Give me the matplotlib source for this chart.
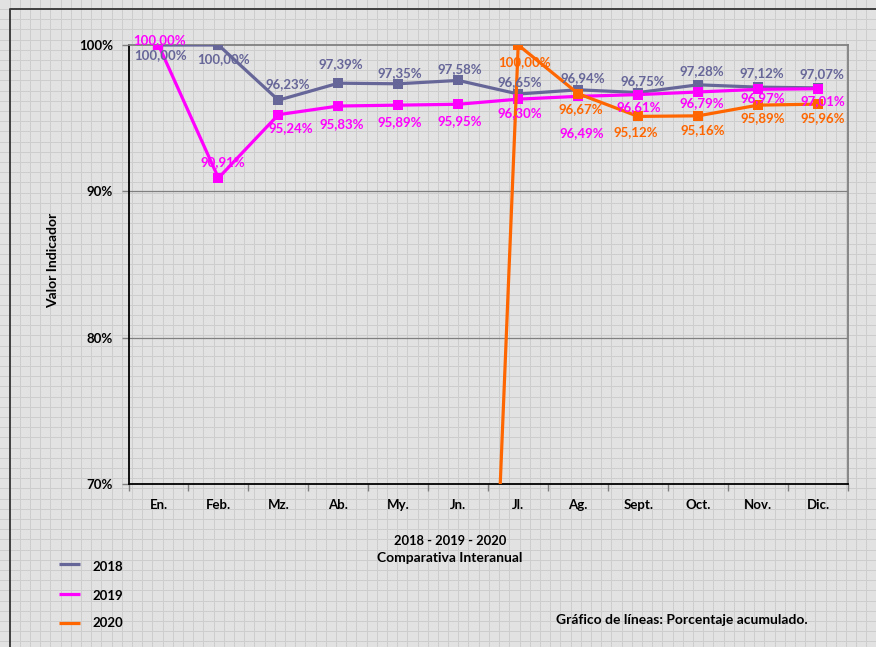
import numpy as np
import matplotlib
matplotlib.use("Agg")
import matplotlib.pyplot as plt

W, H = 876, 647

months = ["En.", "Feb.", "Mz.", "Ab.", "My.", "Jn.", "Jl.", "Ag.", "Sept.", "Oct.", "Nov.", "Dic."]
years = ["2018", "2019", "2020"]
values_2018 = [100.00, 100.00, 96.23, 97.39, 97.35, 97.58, 96.65, 96.94, 96.75, 97.28, 97.12, 97.07]
values_2019 = [100.00, 90.91, 95.24, 95.83, 95.89, 95.95, 96.30, 96.49, 96.61, 96.79, 96.97, 97.01]
values_2020 = [None, None, None, None, None, 0.00, 100.00, 96.67, 95.12, 95.16, 95.89, 95.96]
y_ticks = [70, 80, 90, 100]

colors = {"2018": "#666699", "2019": "#ff00ff", "2020": "#ff6600"}

# label offsets from each point, in pixels (x right, y up)
label_offsets = {
    "2018": [(2, -10), (5, -14), (9, 16), (2, 19), (2, 11), (2, 11),
             (2, 12), (5, 12), (5, 11), (4, 14), (4, 14), (4, 14)],
    "2019": [(1, 5), (4, 16), (12, -13), (3, -18), (1, -17), (1, -17),
             (2, -14), (4, -37), (1, -12), (4, -11), (5, -9), (5, -12)],
    "2020": [None, None, None, None, None, None,
             (6, -17), (3, -15), (-2, -16), (5, -14), (5, -13), (5, -14)],
}

FONT = "Lato"
plt.rcParams["font.family"] = [FONT, "DejaVu Sans"]

fig = plt.figure(figsize=(W / 100, H / 100), dpi=100, facecolor="#e2e2e2")

# patterned background: fine squared grid plus outer frame
bg = fig.add_axes([0, 0, 1, 1], zorder=0)
bg.set_xlim(0, W)
bg.set_ylim(H, 0)
bg.axis("off")
step = 10.2
for gx in np.arange(9.5, W, step):
    bg.axvline(gx, color="#cdcdcd", lw=0.72)
for gy in np.arange(9.0, H, step):
    bg.axhline(gy, color="#cdcdcd", lw=0.72)
bg.plot([10, 10, W + 5], [H + 5, 9, 9], color="#404040", lw=1.4, solid_capstyle="butt")

left, right, top, bottom = 128.5, 848, 45, 484
ax = fig.add_axes([left / W, 1 - bottom / H, (right - left) / W, (bottom - top) / H], zorder=2)
ax.patch.set_alpha(0)

x = np.arange(len(months))
series = {"2018": values_2018, "2019": values_2019, "2020": values_2020}
for z, year in enumerate(years):
    ys = np.array([np.nan if v is None else v for v in series[year]], dtype=float)
    ax.plot(x, ys, color=colors[year], lw=2.3, marker="s", markersize=7,
            markeredgewidth=0, zorder=3 + z)

for year in years:
    for i, v in enumerate(series[year]):
        off = label_offsets[year][i]
        if v is None or off is None or v < 70:
            continue
        ax.annotate(f"{v:.2f}%".replace(".", ","), (i, v), xytext=off,
                    textcoords="offset pixels", ha="center", va="center",
                    fontsize=9.5, fontweight="bold", color=colors[year],
                    zorder=10, annotation_clip=False)

ax.set_xlim(-0.5, len(months) - 0.5)
ax.set_ylim(70, 100)
ax.set_yticks(y_ticks)
ax.set_yticklabels([f"{t}%" for t in y_ticks], fontsize=9.5, fontweight="bold")
ax.set_xticks(x)
ax.set_xticklabels(months, fontsize=9.5, fontweight="bold")
ax.tick_params(axis="x", length=0, pad=11)
ax.set_xticks(np.arange(-0.5, len(months)), minor=True)
ax.tick_params(axis="x", which="minor", length=5, color="#808080", width=1)
ax.tick_params(axis="y", length=5, color="#808080", width=1, pad=6)
for t in y_ticks[1:3]:
    ax.axhline(t, color="#808080", lw=0.9, zorder=1)

ax.spines["left"].set_color("black")
ax.spines["left"].set_linewidth(1.3)
ax.spines["bottom"].set_color("black")
ax.spines["bottom"].set_linewidth(1.3)
ax.spines["top"].set_color("#808080")
ax.spines["top"].set_linewidth(1.3)
ax.spines["right"].set_color("#808080")
ax.spines["right"].set_linewidth(1.3)

txt = dict(fontsize=10, fontweight="bold", color="black", ha="center", va="center")
fig.text(53 / W, 1 - 260 / H, "Valor Indicador", rotation=90, **txt)
fig.text(450 / W, 1 - 541 / H, "2018 - 2019 - 2020", **{**txt, "fontsize": 9.3})
fig.text(450 / W, 1 - 558 / H, "Comparativa Interanual", **txt)
fig.text(682 / W, 1 - 620 / H, "Gráfico de líneas: Porcentaje acumulado.", **txt)

# legend drawn in the left margin
for year, ly, ty in zip(years, [564, 594, 623], [567, 596, 623]):
    bg.plot([59, 80], [ly, ly], color=colors[year], lw=2.3, solid_capstyle="butt")
    bg.text(92, ty, year, fontsize=9.5, fontweight="bold", color="black",
            ha="left", va="center")

fig.savefig("out.png", dpi=100, facecolor=fig.get_facecolor())
